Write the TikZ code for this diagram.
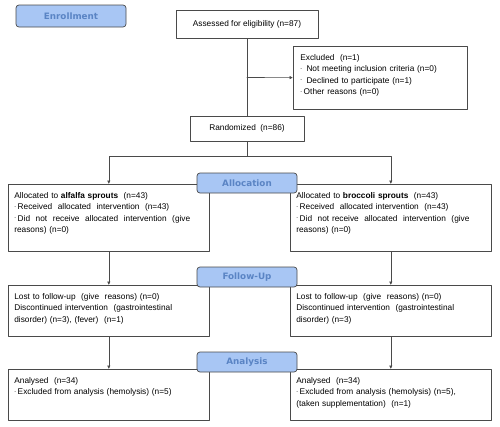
\documentclass[tikz,border=0pt]{standalone}
\usepackage{fontspec}
\setmainfont{Liberation Sans}
\newfontfamily\stagefont{DejaVu Sans}
\usetikzlibrary{arrows.meta,positioning}
\definecolor{boxline}{HTML}{4A4A4A}
\definecolor{stagefill}{HTML}{A8C6F4}
\definecolor{stagetext}{HTML}{5A84C4}
\newcommand{\itemdash}{{\color{gray!70!black}\fontsize{6}{6}\selectfont\raisebox{0.45ex}{-}}\,}
\tikzset{
  flowbox/.style={rectangle,draw=boxline,line width=0.7pt,anchor=north west,align=left,
    inner xsep=6pt,inner ysep=6pt,text height=8pt,
    font=\fontsize{8.3}{11.4}\selectfont},
  plainbox/.style={rectangle,draw=boxline,line width=0.7pt,inner sep=0pt,
    font=\fontsize{8.3}{11.4}\selectfont},
  stagebox/.style={rectangle,rounded corners=3pt,draw=boxline,line width=0.7pt,fill=stagefill,
    text=stagetext,inner sep=0pt,minimum width=100pt,minimum height=20pt,
    font=\stagefont\bfseries\fontsize{8.8}{10}\selectfont},
  arrowline/.style={draw=boxline,line width=0.6pt,-{Latex[length=3.5pt,width=3.5pt]}},
  plainline/.style={draw=boxline,line width=0.6pt},
  every picture/.style={line cap=round,line join=round}
}

\begin{document}
\begin{tikzpicture}[x=1pt,y=-1pt]
  \useasboundingbox (0,0) rectangle (500,426);

  % enrollment
  \node[plainbox,minimum width=142pt,minimum height=28pt] (assess) at (247,24) {Assessed for eligibility (n=87)};
  \node[flowbox,inner xsep=7pt,text width=160pt,text depth=43pt] (excl) at (293,46)
    {Excluded\ \ (n=1)\\
     \itemdash\ Not meeting inclusion criteria (n=0)\\
     \itemdash\ Declined to participate (n=1)\\
     \itemdash Other reasons (n=0)};
  \node[plainbox,minimum width=114pt,minimum height=25pt] (rand) at (247,128.5) {Randomized\ \ (n=86)};
  \coordinate (split) at (247,77.5);
  \coordinate (fork) at (247,156);
  \draw[plainline] (assess) -- (rand);
  \draw[arrowline] (split) -- (excl);

  % allocation
  \node[flowbox,text width=189pt,text depth=47pt] (allocA) at (8,184)
    {Allocated to \textbf{alfalfa sprouts}\ \ (n=43)\\
     \itemdash Received\ \ allocated\ \ intervention\ \ (n=43)\\
     \itemdash Did\ \ not\ \ receive\ \ allocated\ \ intervention\ \ (give\\
     reasons)\ (n=0)};
  \node[flowbox,text width=189pt,text depth=47pt] (allocB) at (290,184)
    {Allocated to \textbf{broccoli sprouts}\ \ (n=43)\\
     \itemdash Received\ \ allocated intervention\ \ (n=43)\\
     \itemdash Did\ \ not receive\ \ allocated\ \ intervention\ \ (give\\
     reasons)\ (n=0)};
  \draw[plainline] (rand) -- (fork);
  \draw[arrowline] (fork) -| (allocA);
  \draw[arrowline] (fork) -| (allocB);

  % follow-up
  \node[flowbox,text width=189pt,text depth=31pt] (followA) at (8,285)
    {Lost to follow-up\ \ (give\ \ reasons) (n=0)\\
     Discontinued intervention\ \ (gastrointestinal\\
     disorder)\ (n=3),\ (fever)\ \ (n=1)};
  \node[flowbox,text width=189pt,text depth=31pt] (followB) at (290,285)
    {Lost to follow-up\ \ (give\ \ reasons) (n=0)\\
     Discontinued intervention\ \ (gastrointestinal\\
     disorder)\ (n=3)};
  \draw[arrowline] (allocA) -- (followA);
  \draw[arrowline] (allocB) -- (followB);

  % analysis
  \node[flowbox,text width=189pt,text depth=31pt] (analysA) at (8,369)
    {Analysed\ \ (n=34)\\
     \itemdash Excluded from analysis (hemolysis) (n=5)};
  \node[flowbox,text width=189pt,text depth=31pt] (analysB) at (290,369)
    {Analysed\ \ (n=34)\\
     \itemdash Excluded from analysis (hemolysis) (n=5),\\
     (taken supplementation)\ \ (n=1)};
  \draw[arrowline] (followA) -- (analysA);
  \draw[arrowline] (followB) -- (analysB);

  % stage labels
  \node[stagebox,minimum width=110pt,minimum height=22pt] (enroll) at (71,16) {Enrollment};
  \node[stagebox] (allocation) at (247,183) {Allocation};
  \node[stagebox] (followup) at (247,277) {Follow-Up};
  \node[stagebox] (analysis) at (247,362) {Analysis};
\end{tikzpicture}
\end{document}
